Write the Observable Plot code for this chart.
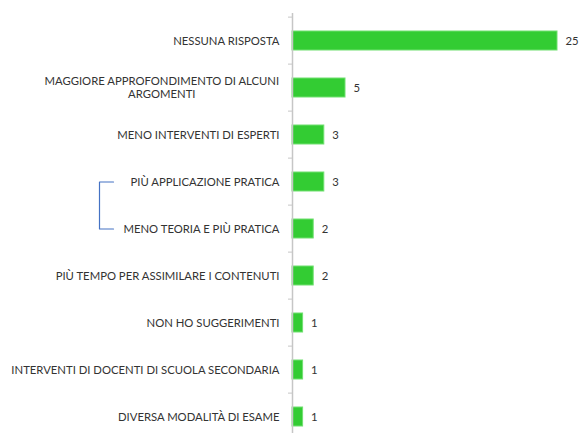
<!DOCTYPE html>
<html><head><meta charset="utf-8">
<script src="https://cdn.jsdelivr.net/npm/d3@7"></script>
<script src="https://cdn.jsdelivr.net/npm/@observablehq/plot@0.6"></script>
<style>html,body{margin:0;padding:0;overflow:hidden;background:#fff}</style>
</head><body><div id="chart"></div>
<script>
const categories = [
  "NESSUNA RISPOSTA",
  "MAGGIORE APPROFONDIMENTO DI ALCUNI\nARGOMENTI",
  "MENO INTERVENTI DI ESPERTI",
  "PIÙ APPLICAZIONE PRATICA",
  "MENO TEORIA E PIÙ PRATICA",
  "PIÙ TEMPO PER ASSIMILARE I CONTENUTI",
  "NON HO SUGGERIMENTI",
  "INTERVENTI DI DOCENTI DI SCUOLA SECONDARIA",
  "DIVERSA MODALITÀ DI ESAME"
];
const values = [25, 5, 3, 3, 2, 2, 1, 1, 1];
const bracketPair = [categories[3], categories[4]];

const data = categories.map((c, i) => ({category: c, value: values[i]}));

const W = 582, H = 450, mt = 13, mb = 7, ml = 292, mr = 25;
const xMax = 25;
const step = (H - mt - mb) / categories.length;
const pxPerUnit = (W - ml - mr) / xMax;
const fs = 11.3;
const textColor = "#333333";
const ctx = document.createElement("canvas").getContext("2d");
ctx.font = `${fs}px Lato`;
const lineW = s => Math.max(...s.split("\n").map(l => ctx.measureText(l).width));

const single = data.filter(d => !d.category.includes("\n"));
const multi = data.filter(d => d.category.includes("\n"));

const spineX = -193 / pxPerUnit, armX = -179 / pxPerUnit;
const bracket = [
  {x: armX, y: bracketPair[0]}, {x: spineX, y: bracketPair[0]},
  {x: spineX, y: bracketPair[1]}, {x: armX, y: bracketPair[1]}
];

const chart = Plot.plot({
  width: W, height: H,
  marginTop: mt, marginBottom: mb, marginLeft: ml, marginRight: mr,
  style: {fontFamily: "Lato, sans-serif", background: "#fff"},
  x: {domain: [0, xMax], axis: null},
  y: {domain: categories, paddingInner: 0.6, paddingOuter: 0.3, axis: null},
  marks: [
    Plot.barX(data, {x: "value", y: "category", fill: "#33cc33", stroke: "#70e070", strokeWidth: 1}),
    Plot.ruleX([0], {stroke: "#c6c6c6", strokeWidth: 1.5}),
    Plot.ruleY(categories, {y: d => d, x1: -4 / pxPerUnit, x2: 0, dy: -step / 2, stroke: "#c6c6c6", strokeWidth: 1}),
    Plot.text(data, {x: "value", y: "category", text: d => String(d.value), textAnchor: "start", dx: 8, fill: textColor, fontSize: fs}),
    Plot.text(single, {x: 0, y: "category", text: "category", textAnchor: "end", dx: -13, fill: textColor, fontSize: fs}),
    ...multi.map(d => Plot.text([d], {x: 0, y: "category", text: "category", textAnchor: "middle", lineHeight: 1.17, dy: -1, dx: -13 - lineW(d.category) / 2, fill: textColor, fontSize: fs})),
    Plot.line(bracket, {x: "x", y: "y", stroke: "#4472c4", strokeWidth: 1.2, curve: "linear"})
  ]
});
document.getElementById("chart").appendChild(chart);
</script>
</body></html>
